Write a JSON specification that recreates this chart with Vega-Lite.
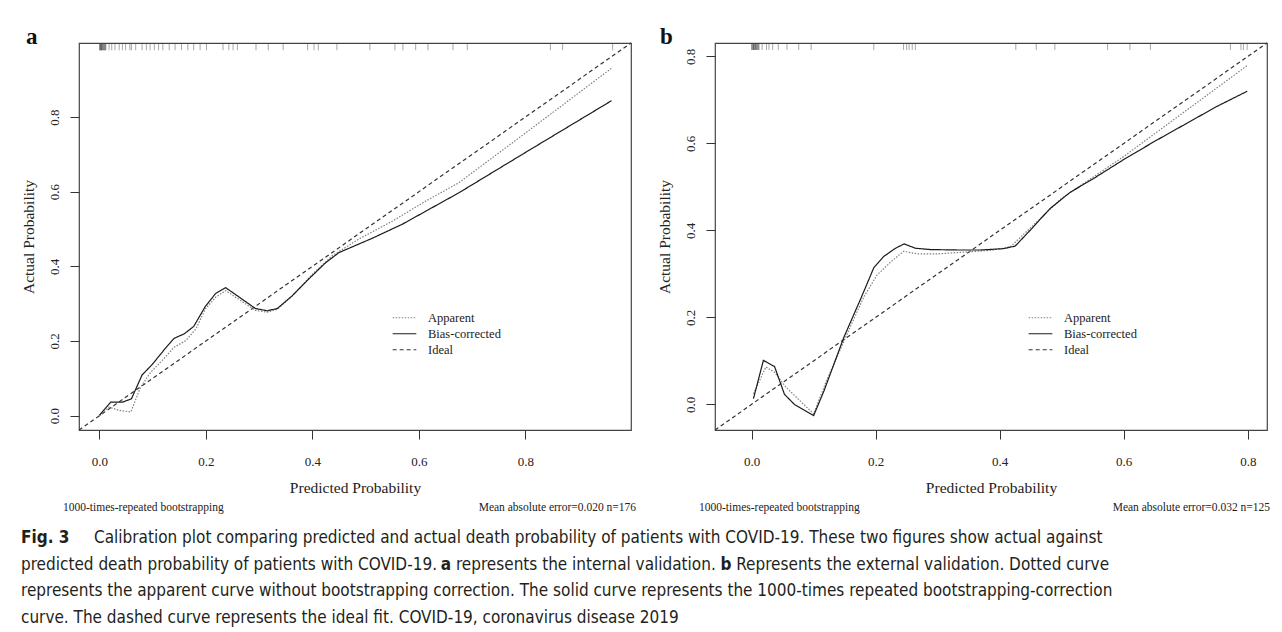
{
  "$schema": "https://vega.github.io/schema/vega-lite/v6.json",
  "background": "white",
  "padding": {"left": 20, "top": 25, "right": 5, "bottom": 0},
  "autosize": {"type": "pad"},
  "config": {
    "view": {"stroke": "#444", "strokeWidth": 1.2},
    "font": "Liberation Serif",
    "axis": {
      "domain": false, "grid": false,
      "tickColor": "#333", "tickWidth": 1, "tickSize": 9,
      "labelFont": "Liberation Serif", "labelFontSize": 13, "labelColor": "#222",
      "titleFont": "Liberation Serif", "titleFontSize": 15.5, "titleFontWeight": "normal", "titleColor": "#222"
    },
    "legend": {"padding": 0}
  },
  "datasets": {
    "curves_a": [
      {"series": "Ideal", "predicted": -0.0385, "actual": -0.0385},
      {"series": "Ideal", "predicted": 0.9985, "actual": 0.9985},
      {"series": "Apparent", "predicted": 0.0, "actual": 0.0},
      {"series": "Apparent", "predicted": 0.018, "actual": 0.023},
      {"series": "Apparent", "predicted": 0.037, "actual": 0.014},
      {"series": "Apparent", "predicted": 0.059, "actual": 0.010},
      {"series": "Apparent", "predicted": 0.077, "actual": 0.076},
      {"series": "Apparent", "predicted": 0.096, "actual": 0.116},
      {"series": "Apparent", "predicted": 0.118, "actual": 0.148},
      {"series": "Apparent", "predicted": 0.140, "actual": 0.183},
      {"series": "Apparent", "predicted": 0.162, "actual": 0.201},
      {"series": "Apparent", "predicted": 0.181, "actual": 0.232},
      {"series": "Apparent", "predicted": 0.199, "actual": 0.286},
      {"series": "Apparent", "predicted": 0.218, "actual": 0.317},
      {"series": "Apparent", "predicted": 0.237, "actual": 0.335},
      {"series": "Apparent", "predicted": 0.293, "actual": 0.282},
      {"series": "Apparent", "predicted": 0.315, "actual": 0.277},
      {"series": "Apparent", "predicted": 0.334, "actual": 0.285},
      {"series": "Apparent", "predicted": 0.362, "actual": 0.321},
      {"series": "Apparent", "predicted": 0.400, "actual": 0.379},
      {"series": "Apparent", "predicted": 0.437, "actual": 0.428},
      {"series": "Apparent", "predicted": 0.487, "actual": 0.473},
      {"series": "Apparent", "predicted": 0.550, "actual": 0.521},
      {"series": "Apparent", "predicted": 0.613, "actual": 0.575},
      {"series": "Apparent", "predicted": 0.675, "actual": 0.624},
      {"series": "Apparent", "predicted": 0.800, "actual": 0.757},
      {"series": "Apparent", "predicted": 0.962, "actual": 0.931},
      {"series": "Bias-corrected", "predicted": 0.0, "actual": 0.001},
      {"series": "Bias-corrected", "predicted": 0.021, "actual": 0.036},
      {"series": "Bias-corrected", "predicted": 0.043, "actual": 0.036},
      {"series": "Bias-corrected", "predicted": 0.060, "actual": 0.045},
      {"series": "Bias-corrected", "predicted": 0.080, "actual": 0.109},
      {"series": "Bias-corrected", "predicted": 0.099, "actual": 0.137},
      {"series": "Bias-corrected", "predicted": 0.123, "actual": 0.179},
      {"series": "Bias-corrected", "predicted": 0.140, "actual": 0.207},
      {"series": "Bias-corrected", "predicted": 0.159, "actual": 0.219},
      {"series": "Bias-corrected", "predicted": 0.177, "actual": 0.239},
      {"series": "Bias-corrected", "predicted": 0.199, "actual": 0.293},
      {"series": "Bias-corrected", "predicted": 0.218, "actual": 0.327},
      {"series": "Bias-corrected", "predicted": 0.237, "actual": 0.343},
      {"series": "Bias-corrected", "predicted": 0.293, "actual": 0.287},
      {"series": "Bias-corrected", "predicted": 0.315, "actual": 0.281},
      {"series": "Bias-corrected", "predicted": 0.334, "actual": 0.287},
      {"series": "Bias-corrected", "predicted": 0.362, "actual": 0.321},
      {"series": "Bias-corrected", "predicted": 0.393, "actual": 0.366},
      {"series": "Bias-corrected", "predicted": 0.425, "actual": 0.410},
      {"series": "Bias-corrected", "predicted": 0.450, "actual": 0.437},
      {"series": "Bias-corrected", "predicted": 0.512, "actual": 0.475},
      {"series": "Bias-corrected", "predicted": 0.569, "actual": 0.513},
      {"series": "Bias-corrected", "predicted": 0.675, "actual": 0.597},
      {"series": "Bias-corrected", "predicted": 0.800, "actual": 0.705},
      {"series": "Bias-corrected", "predicted": 0.962, "actual": 0.844}
    ],
    "curves_b": [
      {"series": "Ideal", "predicted": -0.059, "actual": -0.059},
      {"series": "Ideal", "predicted": 0.831, "actual": 0.831},
      {"series": "Apparent", "predicted": 0.003, "actual": 0.024},
      {"series": "Apparent", "predicted": 0.023, "actual": 0.086},
      {"series": "Apparent", "predicted": 0.037, "actual": 0.074},
      {"series": "Apparent", "predicted": 0.055, "actual": 0.040},
      {"series": "Apparent", "predicted": 0.100, "actual": -0.022},
      {"series": "Apparent", "predicted": 0.119, "actual": 0.048},
      {"series": "Apparent", "predicted": 0.154, "actual": 0.162},
      {"series": "Apparent", "predicted": 0.181, "actual": 0.247},
      {"series": "Apparent", "predicted": 0.202, "actual": 0.297},
      {"series": "Apparent", "predicted": 0.224, "actual": 0.327},
      {"series": "Apparent", "predicted": 0.245, "actual": 0.352},
      {"series": "Apparent", "predicted": 0.267, "actual": 0.346},
      {"series": "Apparent", "predicted": 0.299, "actual": 0.346},
      {"series": "Apparent", "predicted": 0.342, "actual": 0.350},
      {"series": "Apparent", "predicted": 0.385, "actual": 0.354},
      {"series": "Apparent", "predicted": 0.417, "actual": 0.362},
      {"series": "Apparent", "predicted": 0.449, "actual": 0.405},
      {"series": "Apparent", "predicted": 0.500, "actual": 0.474},
      {"series": "Apparent", "predicted": 0.550, "actual": 0.522},
      {"series": "Apparent", "predicted": 0.600, "actual": 0.570},
      {"series": "Apparent", "predicted": 0.700, "actual": 0.675},
      {"series": "Apparent", "predicted": 0.799, "actual": 0.779},
      {"series": "Bias-corrected", "predicted": 0.003, "actual": 0.013},
      {"series": "Bias-corrected", "predicted": 0.019, "actual": 0.101},
      {"series": "Bias-corrected", "predicted": 0.037, "actual": 0.087},
      {"series": "Bias-corrected", "predicted": 0.053, "actual": 0.023},
      {"series": "Bias-corrected", "predicted": 0.069, "actual": 0.000},
      {"series": "Bias-corrected", "predicted": 0.100, "actual": -0.026},
      {"series": "Bias-corrected", "predicted": 0.117, "actual": 0.032},
      {"series": "Bias-corrected", "predicted": 0.149, "actual": 0.155},
      {"series": "Bias-corrected", "predicted": 0.176, "actual": 0.243},
      {"series": "Bias-corrected", "predicted": 0.197, "actual": 0.314},
      {"series": "Bias-corrected", "predicted": 0.213, "actual": 0.340},
      {"series": "Bias-corrected", "predicted": 0.232, "actual": 0.359},
      {"series": "Bias-corrected", "predicted": 0.246, "actual": 0.369},
      {"series": "Bias-corrected", "predicted": 0.264, "actual": 0.359},
      {"series": "Bias-corrected", "predicted": 0.288, "actual": 0.356},
      {"series": "Bias-corrected", "predicted": 0.331, "actual": 0.355},
      {"series": "Bias-corrected", "predicted": 0.369, "actual": 0.355},
      {"series": "Bias-corrected", "predicted": 0.406, "actual": 0.358},
      {"series": "Bias-corrected", "predicted": 0.425, "actual": 0.364},
      {"series": "Bias-corrected", "predicted": 0.449, "actual": 0.400},
      {"series": "Bias-corrected", "predicted": 0.481, "actual": 0.450},
      {"series": "Bias-corrected", "predicted": 0.514, "actual": 0.488},
      {"series": "Bias-corrected", "predicted": 0.551, "actual": 0.519},
      {"series": "Bias-corrected", "predicted": 0.600, "actual": 0.563},
      {"series": "Bias-corrected", "predicted": 0.650, "actual": 0.605},
      {"series": "Bias-corrected", "predicted": 0.700, "actual": 0.645},
      {"series": "Bias-corrected", "predicted": 0.750, "actual": 0.685},
      {"series": "Bias-corrected", "predicted": 0.799, "actual": 0.720}
    ],
    "rug_a": [
      {"predicted": 0.000}, {"predicted": 0.001}, {"predicted": 0.002}, {"predicted": 0.003}, {"predicted": 0.004},
      {"predicted": 0.005}, {"predicted": 0.006}, {"predicted": 0.007}, {"predicted": 0.008}, {"predicted": 0.009},
      {"predicted": 0.010}, {"predicted": 0.011}, {"predicted": 0.012}, {"predicted": 0.002}, {"predicted": 0.004},
      {"predicted": 0.018}, {"predicted": 0.023}, {"predicted": 0.029}, {"predicted": 0.037}, {"predicted": 0.043},
      {"predicted": 0.049}, {"predicted": 0.057}, {"predicted": 0.060}, {"predicted": 0.068}, {"predicted": 0.080},
      {"predicted": 0.088}, {"predicted": 0.095}, {"predicted": 0.103}, {"predicted": 0.111}, {"predicted": 0.119},
      {"predicted": 0.131}, {"predicted": 0.142}, {"predicted": 0.154}, {"predicted": 0.166}, {"predicted": 0.177},
      {"predicted": 0.189}, {"predicted": 0.201}, {"predicted": 0.232}, {"predicted": 0.243}, {"predicted": 0.251},
      {"predicted": 0.259}, {"predicted": 0.294}, {"predicted": 0.317}, {"predicted": 0.345}, {"predicted": 0.391},
      {"predicted": 0.403}, {"predicted": 0.411}, {"predicted": 0.446}, {"predicted": 0.508}, {"predicted": 0.555},
      {"predicted": 0.570}, {"predicted": 0.594}, {"predicted": 0.617}, {"predicted": 0.664}, {"predicted": 0.691},
      {"predicted": 0.847}, {"predicted": 0.870}, {"predicted": 0.964}
    ],
    "rug_b": [
      {"predicted": 0.000}, {"predicted": 0.001}, {"predicted": 0.002}, {"predicted": 0.003}, {"predicted": 0.004},
      {"predicted": 0.005}, {"predicted": 0.006}, {"predicted": 0.007}, {"predicted": 0.008}, {"predicted": 0.009},
      {"predicted": 0.010}, {"predicted": 0.011}, {"predicted": 0.012}, {"predicted": 0.003}, {"predicted": 0.006},
      {"predicted": 0.017}, {"predicted": 0.024}, {"predicted": 0.028}, {"predicted": 0.034}, {"predicted": 0.043},
      {"predicted": 0.057}, {"predicted": 0.076}, {"predicted": 0.096}, {"predicted": 0.197}, {"predicted": 0.245},
      {"predicted": 0.250}, {"predicted": 0.254}, {"predicted": 0.259}, {"predicted": 0.264}, {"predicted": 0.426},
      {"predicted": 0.459}, {"predicted": 0.489}, {"predicted": 0.574}, {"predicted": 0.610}, {"predicted": 0.643},
      {"predicted": 0.772}, {"predicted": 0.789}, {"predicted": 0.793}, {"predicted": 0.799}
    ],
    "notes_a": [{"panel": "a", "left": "1000-times-repeated bootstrapping", "right": "Mean absolute error=0.020 n=176"}],
    "notes_b": [{"panel": "b", "left": "1000-times-repeated bootstrapping", "right": "Mean absolute error=0.032 n=125"}],
    "caption": [
      {"line": 1, "seg": "fig", "text": "Fig. 3"},
      {"line": 1, "seg": "rest", "text": "Calibration plot comparing predicted and actual death probability of patients with COVID-19. These two figures show actual against"},
      {"line": 2, "seg": "l2a", "text": "predicted death probability of patients with COVID-19."},
      {"line": 2, "seg": "l2b", "text": "a"},
      {"line": 2, "seg": "l2c", "text": "represents the internal validation."},
      {"line": 2, "seg": "l2d", "text": "b"},
      {"line": 2, "seg": "l2e", "text": "Represents the external validation. Dotted curve"},
      {"line": 3, "seg": "full", "text": "represents the apparent curve without bootstrapping correction. The solid curve represents the 1000-times repeated bootstrapping-correction"},
      {"line": 4, "seg": "full", "text": "curve. The dashed curve represents the ideal fit. COVID-19, coronavirus disease 2019"}
    ]
  },
  "spacing": 10,
  "vconcat": [
    {
      "spacing": 19,
      "resolve": {
        "scale": {"color": "independent", "strokeDash": "independent"},
        "legend": {"color": "independent", "strokeDash": "independent"}
      },
      "hconcat": [
        {
          "width": 552, "height": 387,
          "layer": [
            {
              "data": {"name": "rug_a"},
              "mark": {"type": "rule", "color": "#444", "strokeWidth": 0.8, "opacity": 0.6},
              "encoding": {
                "x": {"field": "predicted", "type": "quantitative", "scale": {"domain": [-0.0385, 0.9985], "nice": false, "zero": false},
                  "axis": {"values": [0, 0.2, 0.4, 0.6, 0.8], "format": ".1f", "title": "Predicted Probability", "labelPadding": 16, "titlePadding": 12}},
                "y": {"datum": 0.9985, "type": "quantitative", "scale": {"domain": [-0.0385, 0.9985], "nice": false, "zero": false},
                  "axis": {"values": [0, 0.2, 0.4, 0.6, 0.8], "format": ".1f", "title": "Actual Probability", "labelAngle": -90, "labelPadding": 9, "titlePadding": 12}},
                "y2": {"datum": 0.979}
              }
            },
            {
              "data": {"name": "curves_a"},
              "mark": {"type": "line", "strokeWidth": 1.2},
              "encoding": {
                "x": {"field": "predicted", "type": "quantitative"},
                "y": {"field": "actual", "type": "quantitative"},
                "color": {"field": "series", "type": "nominal",
                  "scale": {"domain": ["Apparent", "Bias-corrected", "Ideal"], "range": ["#808080", "#1a1a1a", "#333333"]},
                  "legend": {"orient": "none", "legendX": 313, "legendY": 267, "title": null, "symbolType": "stroke", "symbolSize": 560, "symbolStrokeWidth": 1.2, "clipHeight": 15.5, "rowPadding": 0, "labelFont": "Liberation Serif", "labelFontSize": 12.5, "labelColor": "#222", "labelOffset": 11}},
                "strokeDash": {"field": "series", "type": "nominal",
                  "scale": {"domain": ["Apparent", "Bias-corrected", "Ideal"], "range": [[1.5, 1.5], [1, 0], [4, 3]]},
                  "legend": {"orient": "none", "legendX": 313, "legendY": 267, "title": null, "symbolType": "stroke", "symbolSize": 560, "symbolStrokeWidth": 1.2, "clipHeight": 15.5, "rowPadding": 0, "labelFont": "Liberation Serif", "labelFontSize": 12.5, "labelColor": "#222", "labelOffset": 11}}
              }
            },
            {
              "data": {"name": "notes_a"},
              "mark": {"type": "text", "align": "left", "baseline": "middle", "dx": -16, "dy": 78, "font": "Liberation Serif", "fontSize": 11.5, "color": "#222"},
              "encoding": {"x": {"datum": -0.0385}, "y": {"datum": -0.0385}, "text": {"field": "left"}}
            },
            {
              "data": {"name": "notes_a"},
              "mark": {"type": "text", "align": "right", "baseline": "middle", "dx": 5, "dy": 78, "font": "Liberation Serif", "fontSize": 11.5, "color": "#222"},
              "encoding": {"x": {"datum": 0.9985}, "y": {"datum": -0.0385}, "text": {"field": "right"}}
            },
            {
              "data": {"name": "notes_a"},
              "mark": {"type": "text", "align": "left", "baseline": "alphabetic", "dx": -53, "dy": 1, "font": "Liberation Serif", "fontSize": 23, "fontWeight": "bold", "color": "#111"},
              "encoding": {"x": {"datum": -0.0385}, "y": {"datum": 0.9985}, "text": {"field": "panel"}}
            }
          ]
        },
        {
          "width": 552, "height": 387,
          "layer": [
            {
              "data": {"name": "rug_b"},
              "mark": {"type": "rule", "color": "#444", "strokeWidth": 0.8, "opacity": 0.6},
              "encoding": {
                "x": {"field": "predicted", "type": "quantitative", "scale": {"domain": [-0.059, 0.831], "nice": false, "zero": false},
                  "axis": {"values": [0, 0.2, 0.4, 0.6, 0.8], "format": ".1f", "title": "Predicted Probability", "labelPadding": 16, "titlePadding": 12}},
                "y": {"datum": 0.831, "type": "quantitative", "scale": {"domain": [-0.059, 0.831], "nice": false, "zero": false},
                  "axis": {"values": [0, 0.2, 0.4, 0.6, 0.8], "format": ".1f", "title": "Actual Probability", "labelAngle": -90, "labelPadding": 9, "titlePadding": 12}},
                "y2": {"datum": 0.815}
              }
            },
            {
              "data": {"name": "curves_b"},
              "mark": {"type": "line", "strokeWidth": 1.2},
              "encoding": {
                "x": {"field": "predicted", "type": "quantitative"},
                "y": {"field": "actual", "type": "quantitative"},
                "color": {"field": "series", "type": "nominal",
                  "scale": {"domain": ["Apparent", "Bias-corrected", "Ideal"], "range": ["#808080", "#1a1a1a", "#333333"]},
                  "legend": {"orient": "none", "legendX": 313, "legendY": 267, "title": null, "symbolType": "stroke", "symbolSize": 560, "symbolStrokeWidth": 1.2, "clipHeight": 15.5, "rowPadding": 0, "labelFont": "Liberation Serif", "labelFontSize": 12.5, "labelColor": "#222", "labelOffset": 11}},
                "strokeDash": {"field": "series", "type": "nominal",
                  "scale": {"domain": ["Apparent", "Bias-corrected", "Ideal"], "range": [[1.5, 1.5], [1, 0], [4, 3]]},
                  "legend": {"orient": "none", "legendX": 313, "legendY": 267, "title": null, "symbolType": "stroke", "symbolSize": 560, "symbolStrokeWidth": 1.2, "clipHeight": 15.5, "rowPadding": 0, "labelFont": "Liberation Serif", "labelFontSize": 12.5, "labelColor": "#222", "labelOffset": 11}}
              }
            },
            {
              "data": {"name": "notes_b"},
              "mark": {"type": "text", "align": "left", "baseline": "middle", "dx": -16, "dy": 78, "font": "Liberation Serif", "fontSize": 11.5, "color": "#222"},
              "encoding": {"x": {"datum": -0.059}, "y": {"datum": -0.059}, "text": {"field": "left"}}
            },
            {
              "data": {"name": "notes_b"},
              "mark": {"type": "text", "align": "right", "baseline": "middle", "dx": 3, "dy": 78, "font": "Liberation Serif", "fontSize": 11.5, "color": "#222"},
              "encoding": {"x": {"datum": 0.831}, "y": {"datum": -0.059}, "text": {"field": "right"}}
            },
            {
              "data": {"name": "notes_b"},
              "mark": {"type": "text", "align": "left", "baseline": "alphabetic", "dx": -55, "dy": 1, "font": "Liberation Serif", "fontSize": 23, "fontWeight": "bold", "color": "#111"},
              "encoding": {"x": {"datum": -0.059}, "y": {"datum": 0.831}, "text": {"field": "panel"}}
            }
          ]
        }
      ]
    },
    {
      "width": 1240, "height": 106,
      "view": {"stroke": null},
      "data": {"name": "caption"},
      "encoding": {
        "y": {"field": "line", "type": "ordinal", "axis": null, "scale": {"domain": [1, 2, 3, 4], "padding": 0.5}},
        "text": {"field": "text"}
      },
      "layer": [
        {"transform": [{"filter": "datum.seg == 'fig'"}], "mark": {"type": "text", "align": "left", "baseline": "middle", "x": 0, "dx": -58, "font": "DejaVu Sans Condensed", "fontSize": 17, "fontWeight": "bold", "color": "#231f20"}},
        {"transform": [{"filter": "datum.seg == 'rest'"}], "mark": {"type": "text", "align": "left", "baseline": "middle", "x": 0, "dx": 15, "font": "DejaVu Sans Condensed", "fontSize": 17, "color": "#231f20"}},
        {"transform": [{"filter": "datum.seg == 'l2a'"}], "mark": {"type": "text", "align": "left", "baseline": "middle", "x": 0, "dx": -58, "font": "DejaVu Sans Condensed", "fontSize": 17, "color": "#231f20"}},
        {"transform": [{"filter": "datum.seg == 'l2b'"}], "mark": {"type": "text", "align": "left", "baseline": "middle", "x": 0, "dx": 361.8, "font": "DejaVu Sans Condensed", "fontSize": 17, "fontWeight": "bold", "color": "#231f20"}},
        {"transform": [{"filter": "datum.seg == 'l2c'"}], "mark": {"type": "text", "align": "left", "baseline": "middle", "x": 0, "dx": 376.9, "font": "DejaVu Sans Condensed", "fontSize": 17, "color": "#231f20"}},
        {"transform": [{"filter": "datum.seg == 'l2d'"}], "mark": {"type": "text", "align": "left", "baseline": "middle", "x": 0, "dx": 641.4, "font": "DejaVu Sans Condensed", "fontSize": 17, "fontWeight": "bold", "color": "#231f20"}},
        {"transform": [{"filter": "datum.seg == 'l2e'"}], "mark": {"type": "text", "align": "left", "baseline": "middle", "x": 0, "dx": 657.2, "font": "DejaVu Sans Condensed", "fontSize": 17, "color": "#231f20"}},
        {"transform": [{"filter": "datum.seg == 'full'"}], "mark": {"type": "text", "align": "left", "baseline": "middle", "x": 0, "dx": -58, "font": "DejaVu Sans Condensed", "fontSize": 17, "color": "#231f20"}}
      ]
    }
  ]
}
